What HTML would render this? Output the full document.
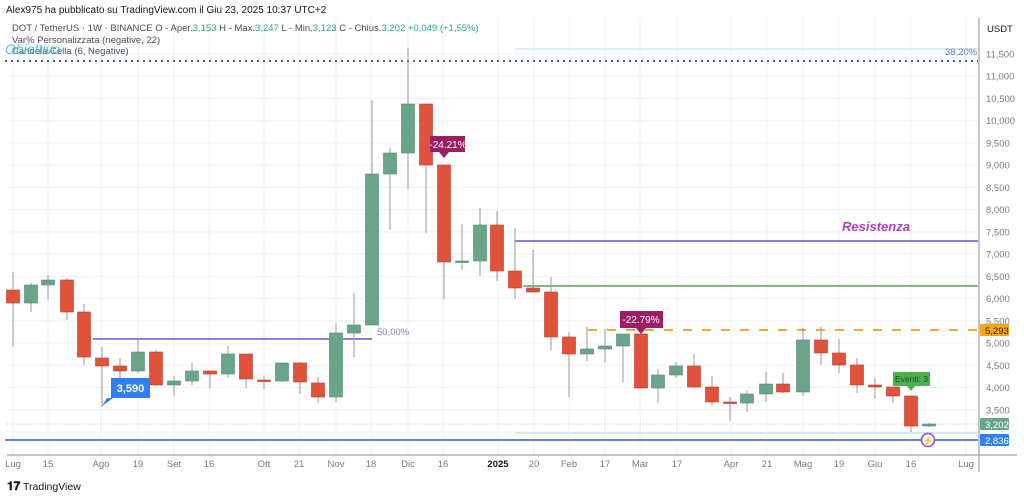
<!DOCTYPE html>
<html><head><meta charset="utf-8"><style>
html,body{margin:0;padding:0;background:#fff;width:1024px;height:497px;overflow:hidden;font-family:"Liberation Sans",sans-serif}
svg{display:block}
</style></head><body>
<svg id="s" width="1024" height="497" xmlns="http://www.w3.org/2000/svg" font-family="Liberation Sans, sans-serif">
<rect width="1024" height="497" fill="#fff"/>
<g id="grid" stroke="#eef0f3" stroke-width="1"></g>
<text x="6" y="13" font-size="10" fill="#131722">Alex975 ha pubblicato su TradingView.com il Giu 23, 2025 10:37 UTC+2</text>
<text x="12" y="31" font-size="9.5" fill="#4a4e59">DOT / TetherUS · 1W · BINANCE  O - Aper.<tspan fill="#22ab94">3,153</tspan>  H - Max.<tspan fill="#22ab94">3,247</tspan>  L - Min.<tspan fill="#22ab94">3,123</tspan>  C - Chius.<tspan fill="#22ab94">3,202  +0,049 (+1,55%)</tspan></text>
<text x="12" y="43" font-size="9.5" fill="#4a4e59">Var% Personalizzata (negative, 22)</text>
<text x="12" y="54" font-size="9.5" fill="#4a4e59">Candela Cella (6, Negative)</text>
<text x="5" y="54" font-size="14" font-style="italic" fill="#3bb8d8" opacity="0.85">Obiettivo</text>
<line x1="5" y1="61" x2="978" y2="61" stroke="#3a5fb8" stroke-width="2" stroke-dasharray="2,4"/>
<line x1="515" y1="49" x2="978" y2="49" stroke="#a9dcf0" stroke-width="1"/>
<text x="945" y="55" font-size="9.5" fill="#5b7fd0">38,20%</text>
<line x1="93" y1="339" x2="372" y2="339" stroke="#6a55c0" stroke-width="1.5"/>
<text x="377" y="335" font-size="9.5" fill="#8a7ad0">50,00%</text>
<line x1="515" y1="241" x2="978" y2="241" stroke="#6a55c0" stroke-width="1.5"/>
<text x="842" y="231" font-size="13" font-style="italic" font-weight="bold" fill="#b040c0">Resistenza</text>
<line x1="523" y1="286" x2="978" y2="286" stroke="#3a8a3a" stroke-width="1.2"/>
<line x1="588" y1="330" x2="978" y2="330" stroke="#f7a23b" stroke-width="2" stroke-dasharray="9,10"/>
<line x1="515" y1="433" x2="978" y2="433" stroke="#a9dcf0" stroke-width="1"/>
<line x1="7" y1="424" x2="978" y2="424" stroke="#9aa" stroke-width="0.7" stroke-dasharray="1,2"/>
<line x1="5" y1="440" x2="978" y2="440" stroke="#5b86d6" stroke-width="2"/>
<g id="candles"></g>
<!-- callouts -->
<path d="M111 378 H150 V398 H113 L102 406 L107 398 H111 Z" fill="#2f7ff0"/>
<text x="130.5" y="392" font-size="11" font-weight="bold" fill="#fff" text-anchor="middle">3,590</text>
<path d="M430 136 H465 V152 H449 L444 158 L439 152 H430 Z" fill="#9c1d63"/>
<text x="448" y="148" font-size="10" fill="#fff" text-anchor="middle">-24.21%</text>
<path d="M620 311 H663 V328 H646 L641 334 L636 328 H620 Z" fill="#9c1d63"/>
<text x="641" y="323" font-size="10" fill="#fff" text-anchor="middle">-22.79%</text>
<path d="M893 372 H930 V386 H915 L911 391 L907 386 H893 Z" fill="#4caf50"/>
<text x="911.5" y="382" font-size="8.5" fill="#1b4d1b" text-anchor="middle">Eventi: 3</text>
<circle cx="928" cy="440" r="6.5" fill="#fff" stroke="#a040d0" stroke-width="1.5"/>
<text x="928" y="444" font-size="9" fill="#a040d0" text-anchor="middle">⚡</text>
<!-- axes -->
<line x1="979" y1="18" x2="979" y2="472" stroke="#8c8f96" stroke-width="1"/>
<line x1="7" y1="455" x2="1017" y2="455" stroke="#8c8f96" stroke-width="1"/>
<text x="987" y="32" font-size="9.5" fill="#131722">USDT</text>
<g id="plabels" font-size="9.5" fill="#787b86"></g>
<g id="dlabels" font-size="9.5" fill="#787b86" text-anchor="middle"></g>
<rect x="980" y="324" width="29" height="12" rx="1" fill="#f7a51a"/>
<text x="985" y="334" font-size="9.5" fill="#3a2a00">5,293</text>
<rect x="980" y="418" width="29" height="12" rx="1" fill="#6aa58a"/>
<text x="985" y="428" font-size="9.5" fill="#fff">3,202</text>
<rect x="980" y="434" width="29" height="12" rx="1" fill="#2f7ff0"/>
<text x="985" y="444" font-size="9.5" fill="#fff">2,836</text>
<text x="7" y="490" font-size="12" font-weight="bold" fill="#131722">𝟏𝟕</text>
<text x="23" y="490" font-size="10.5" fill="#131722">TradingView</text>
</svg>
<script>
var NS="http://www.w3.org/2000/svg";
function el(p,t,a,txt){var e=document.createElementNS(NS,t);for(var k in a)e.setAttribute(k,a[k]);if(txt)e.textContent=txt;document.getElementById(p).appendChild(e);}
function Y(p){return 54+(11500-p)*0.04447;}
for(var p=3000;p<=11500;p+=500){var y=Y(p);el("grid","line",{x1:7,y1:y,x2:978,y2:y});
 if(p!=5500&&p!=3000)el("plabels","text",{x:986,y:y+3.5},(p/1000).toFixed(3).replace('.',','));}
el("plabels","text",{x:986,y:Y(5500)+3.5},"5,500");
var d=[["Lug",13],["15",48],["Ago",101],["19",138],["Set",174],["16",209],["Ott",264],["21",299],["Nov",336],["18",371],["Dic",408],["16",443],["2025",498],["20",534],["Feb",569],["17",605],["Mar",640],["17",677],["Apr",731],["21",767],["Mag",803],["19",839],["Giu",875],["16",911],["Lug",966]];
d.forEach(function(a){el("grid","line",{x1:a[1],y1:18,x2:a[1],y2:455});
 var t=el("dlabels","text",{x:a[1],y:467,"font-weight":a[0]=="2025"?"bold":"normal",fill:a[0]=="2025"?"#131722":"#787b86"},a[0]);});
var c=[[13,290,303,272,347,0],[31,303,285,283,312,1],[48,285,280,275,300,1],[67,280,312,278,320,0],[84,312,357,304,365,0],[102,358,366,347,407,0],[120,366,371,358,378,0],[138,371,352,340,373,1],[156,352,385,350,386,0],[174,385,381,376,396,1],[192,381,371,363,385,1],[210,371,374,371,388,0],[228,374,354,346,378,1],[246,354,379,354,388,0],[264,380,381,376,390,0],[282,381,363,363,382,1],[300,363,382,362,394,0],[318,383,397,377,403,0],[336,397,333,323,402,1],[354,333,325,293,357,1],[372,325,174,100,325,1],[390,174,153,148,230,1],[408,153,104,48,190,1],[426,104,165,104,233,0],[444,165,262,165,299,0],[462,262,261,224,270,1],[480,261,225,208,276,1],[497,225,271,211,281,0],[515,271,288,228,299,0],[533,288,292,250,292,0],[551,292,337,277,350,0],[569,337,354,332,397,0],[587,354,349,327,361,1],[605,349,346,329,363,1],[623,346,334,334,382,1],[641,334,388,333,388,0],[658,388,375,369,403,1],[676,375,366,362,378,1],[694,366,387,354,388,0],[712,387,402,376,406,0],[730,402,403,397,421,0],[747,403,394,390,412,1],[766,394,384,372,402,1],[783,384,392,373,393,0],[803,392,340,328,396,1],[821,340,353,326,365,0],[839,353,365,339,373,0],[857,365,385,358,393,0],[875,385,387,378,399,0],[893,387,396,387,403,0],[911,396,426,396,432,0],[929,426,424,423,427,1]];
c.forEach(function(k){var col=k[5]?"#6aa58a":"#e0523c",sc=k[5]?"#4f8a6e":"#b73a28";
 el("candles","line",{x1:k[0],y1:k[3],x2:k[0],y2:k[4],stroke:"#999",'stroke-width':1});
 var t=Math.min(k[1],k[2]),h=Math.max(1.5,Math.abs(k[1]-k[2]));
 el("candles","rect",{x:k[0]-6.5,y:t,width:13,height:h,fill:col,stroke:sc,'stroke-width':0.6});});
</script>
</body></html>
